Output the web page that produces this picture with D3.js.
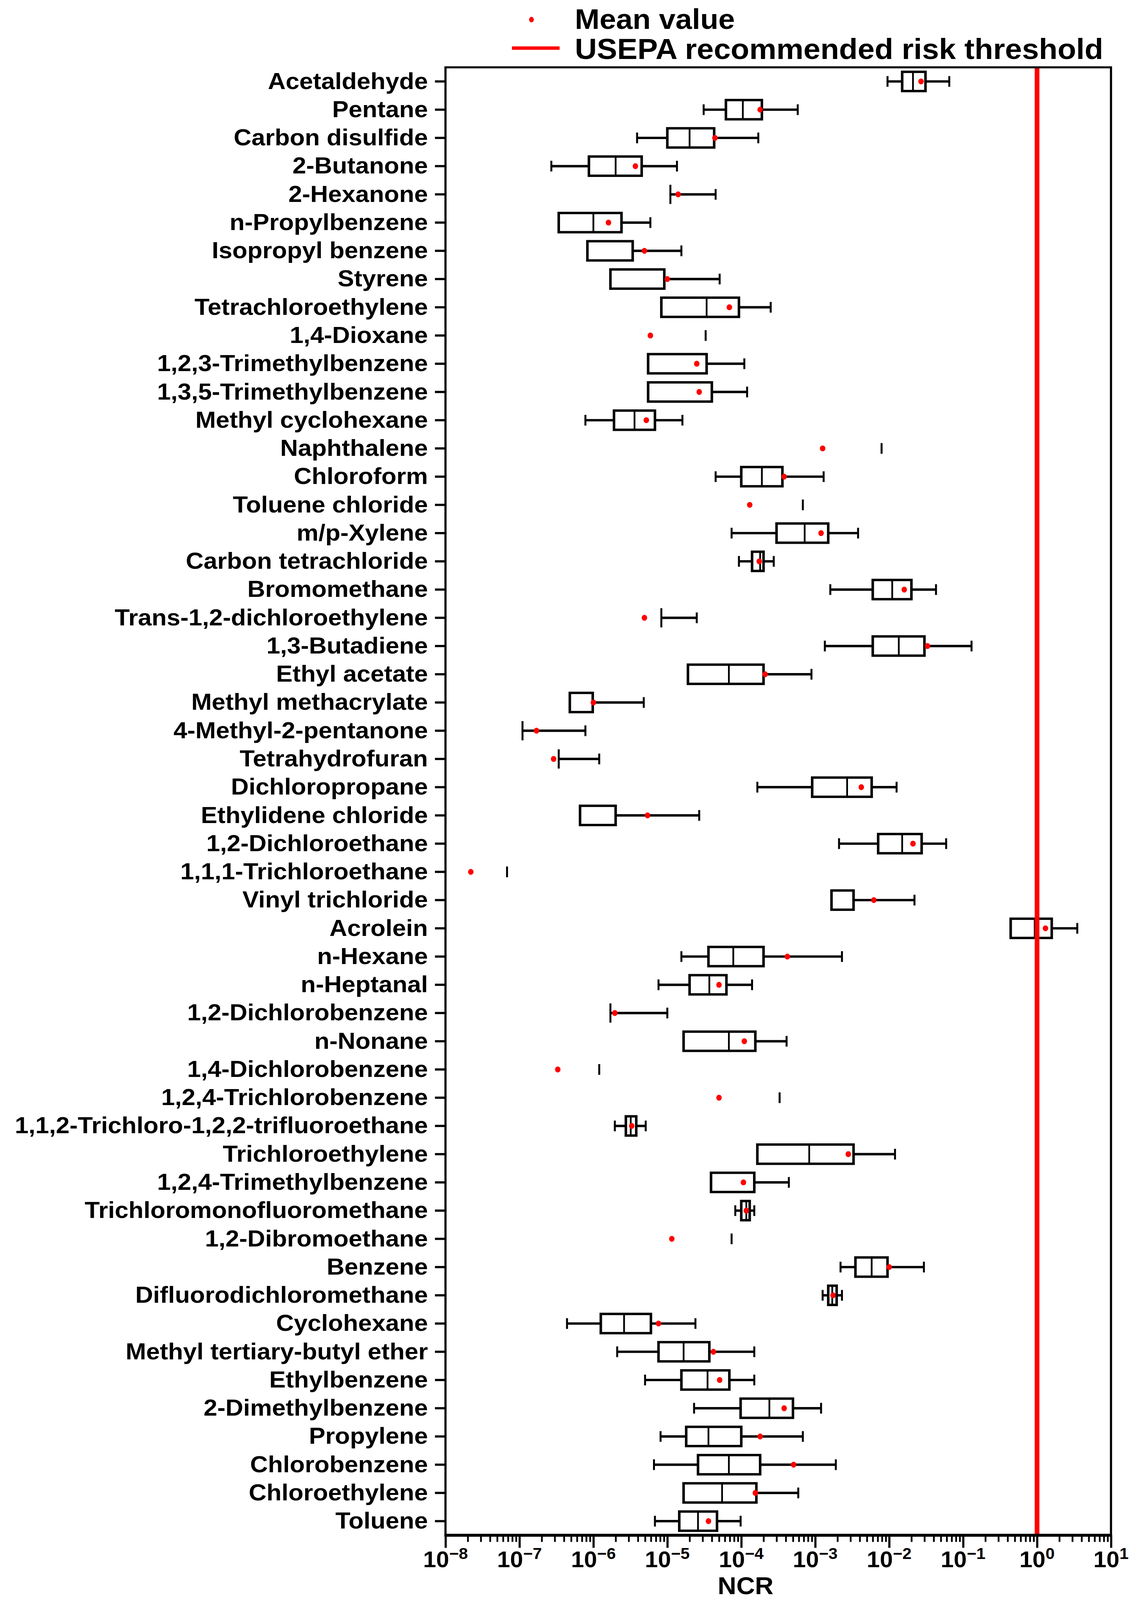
<!DOCTYPE html>
<html>
<head>
<meta charset="utf-8">
<script src="https://cdn.jsdelivr.net/npm/d3@7"></script>
<style>
  html, body { margin: 0; padding: 0; background: #fff; overflow: hidden; }
  #chart { display: block; width: 100vw; height: 100vh; }
  svg text { font-family: "Liberation Sans", Arial, sans-serif; font-weight: bold; }
</style>
</head>
<body>
<svg id="chart" viewBox="0 0 2907 4325" preserveAspectRatio="none"></svg>
<script>
// ---------------- DATA ----------------
const categories = [
  "Acetaldehyde","Pentane","Carbon disulfide","2-Butanone","2-Hexanone","n-Propylbenzene",
  "Isopropyl benzene","Styrene","Tetrachloroethylene","1,4-Dioxane","1,2,3-Trimethylbenzene",
  "1,3,5-Trimethylbenzene","Methyl cyclohexane","Naphthalene","Chloroform","Toluene chloride",
  "m/p-Xylene","Carbon tetrachloride","Bromomethane","Trans-1,2-dichloroethylene","1,3-Butadiene",
  "Ethyl acetate","Methyl methacrylate","4-Methyl-2-pentanone","Tetrahydrofuran","Dichloropropane",
  "Ethylidene chloride","1,2-Dichloroethane","1,1,1-Trichloroethane","Vinyl trichloride","Acrolein",
  "n-Hexane","n-Heptanal","1,2-Dichlorobenzene","n-Nonane","1,4-Dichlorobenzene",
  "1,2,4-Trichlorobenzene","1,1,2-Trichloro-1,2,2-trifluoroethane","Trichloroethylene",
  "1,2,4-Trimethylbenzene","Trichloromonofluoromethane","1,2-Dibromoethane","Benzene",
  "Difluorodichloromethane","Cyclohexane","Methyl tertiary-butyl ether","Ethylbenzene",
  "2-Dimethylbenzene","Propylene","Chlorobenzene","Chloroethylene","Toluene"
];
const minV = [9.5e-3,3.1e-5,3.9e-6,2.7e-7,1.1e-5,3.4e-7,8.3e-7,1.7e-6,8.3e-6,3.3e-5,5.5e-6,
  5.5e-6,7.8e-7,7.9e-3,4.5e-5,6.8e-4,7.4e-5,9.3e-5,1.6e-3,8.3e-6,1.35e-3,1.9e-5,4.8e-7,1.1e-7,
  3.4e-7,1.65e-4,6.6e-7,2.1e-3,6.8e-8,1.66e-3,0.44,1.55e-5,7.6e-6,1.7e-6,1.66e-5,1.2e-6,3.3e-4,
  1.95e-6,1.65e-4,3.9e-5,8.3e-5,7.4e-5,2.2e-3,1.26e-3,4.4e-7,2.1e-6,5.0e-6,2.3e-5,8.1e-6,6.6e-6,
  1.66e-5,6.8e-6];
const q1V = [1.5e-2,6.2e-5,1.0e-5,8.7e-7,1.1e-5,3.4e-7,8.3e-7,1.7e-6,8.3e-6,3.3e-5,5.5e-6,
  5.5e-6,1.9e-6,7.9e-3,1.0e-4,6.8e-4,3.0e-4,1.4e-4,6.0e-3,8.3e-6,6.0e-3,1.9e-5,4.8e-7,1.1e-7,
  3.4e-7,9.1e-4,6.6e-7,7.1e-3,6.8e-8,1.66e-3,0.44,3.6e-5,2.0e-5,1.7e-6,1.66e-5,1.2e-6,3.3e-4,
  2.75e-6,1.65e-4,3.9e-5,1.0e-4,7.4e-5,3.5e-3,1.5e-3,1.26e-6,7.6e-6,1.55e-5,9.8e-5,1.8e-5,2.6e-5,
  1.66e-5,1.45e-5];
const medV = [2.1e-2,1.05e-4,2.0e-5,2.0e-6,1.1e-5,1.0e-6,8.3e-7,1.7e-6,3.4e-5,3.3e-5,5.5e-6,
  5.5e-6,3.6e-6,7.9e-3,1.9e-4,6.8e-4,7.2e-4,1.8e-4,1.1e-2,8.3e-6,1.35e-2,6.8e-5,4.8e-7,1.1e-7,
  3.4e-7,2.7e-3,6.6e-7,1.5e-2,6.8e-8,1.66e-3,0.93,7.8e-5,3.7e-5,1.7e-6,6.8e-5,1.2e-6,3.3e-4,
  3.2e-6,8.3e-4,3.9e-5,1.17e-4,7.4e-5,5.8e-3,1.7e-3,2.6e-6,1.66e-5,3.5e-5,2.4e-4,3.6e-5,6.8e-5,
  5.5e-5,2.6e-5];
const q3V = [3.1e-2,1.9e-4,4.3e-5,4.5e-6,1.1e-5,2.4e-6,3.4e-6,9.1e-6,9.3e-5,3.3e-5,3.4e-5,
  4.0e-5,6.8e-6,7.9e-3,3.6e-4,6.8e-4,1.5e-3,2.0e-4,2.0e-2,8.3e-6,3.0e-2,2.0e-4,9.8e-7,1.1e-7,
  3.4e-7,5.8e-3,2.0e-6,2.75e-2,6.8e-8,3.3e-3,1.58,2.0e-4,6.3e-5,1.7e-6,1.55e-4,1.2e-6,3.3e-4,
  3.8e-6,3.3e-3,1.5e-4,1.3e-4,7.4e-5,9.5e-3,1.95e-3,6.0e-6,3.7e-5,6.9e-5,5.0e-4,1.0e-4,1.8e-4,
  1.6e-4,4.7e-5];
const maxV = [6.5e-2,5.8e-4,1.7e-4,1.35e-5,4.5e-5,5.9e-6,1.55e-5,5.1e-5,2.5e-4,3.3e-5,1.1e-4,
  1.2e-4,1.6e-5,7.9e-3,1.3e-3,6.8e-4,3.8e-3,2.75e-4,4.3e-2,2.5e-5,0.13,8.9e-4,4.8e-6,7.8e-7,
  1.2e-6,1.26e-2,2.7e-5,5.9e-2,6.8e-8,2.2e-2,3.5,2.3e-3,1.4e-4,1.0e-5,4.1e-4,1.2e-6,3.3e-4,
  5.1e-6,1.2e-2,4.4e-4,1.5e-4,7.4e-5,2.95e-2,2.3e-3,2.4e-5,1.5e-4,1.5e-4,1.2e-3,6.8e-4,1.9e-3,
  5.9e-4,9.8e-5];
const meanV = [2.7e-2,1.8e-4,4.4e-5,3.7e-6,1.4e-5,1.6e-6,4.9e-6,1.0e-5,6.9e-5,5.9e-6,2.5e-5,
  2.7e-5,5.2e-6,1.26e-3,3.8e-4,1.3e-4,1.2e-3,1.75e-4,1.6e-2,4.9e-6,3.3e-2,2.1e-4,1.0e-6,1.7e-7,
  2.9e-7,4.2e-3,5.4e-6,2.1e-2,2.2e-8,6.2e-3,1.3,4.2e-4,5.0e-5,1.95e-6,1.1e-4,3.3e-7,5.0e-5,
  3.3e-6,2.8e-3,1.07e-4,1.17e-4,1.15e-5,1.0e-2,1.74e-3,7.6e-6,4.2e-5,5.1e-5,3.8e-4,1.8e-4,5.1e-4,
  1.55e-4,3.6e-5];
const threshold = 1;
const tickExps = [-8,-7,-6,-5,-4,-3,-2,-1,0,1];
const legendLabels = ["Mean value", "USEPA recommended risk threshold"];
const xTitle = "NCR";

// ---------------- LAYOUT ----------------
const L = 1140, R = 2843, T = 182, B = 4150;
const svg = d3.select("#chart");

const x = d3.scaleLog().domain([1e-8, 10]).range([L, R]);
const y = d3.scaleBand().domain(categories).range([T, B]).padding(0);

const rows = categories.map((c, i) => ({
  name: c, min: minV[i], q1: q1V[i], med: medV[i], q3: q3V[i], max: maxV[i], mean: meanV[i]
}));

const boxH = 52, capH = 29, sw = 6.5, capW = 5;
const g = svg.append("g");

rows.forEach(d => {
  const cy = y(d.name) + y.bandwidth() / 2;
  const gg = g.append("g");
  if (d.min === d.max) {
    gg.append("line").attr("x1", x(d.min)).attr("x2", x(d.min))
      .attr("y1", cy - capH / 2).attr("y2", cy + capH / 2)
      .attr("stroke", "#000").attr("stroke-width", capW);
    return;
  }
  if (d.min < d.q1) {
    gg.append("line").attr("x1", x(d.min)).attr("x2", x(d.q1)).attr("y1", cy).attr("y2", cy)
      .attr("stroke", "#000").attr("stroke-width", sw);
    gg.append("line").attr("x1", x(d.min)).attr("x2", x(d.min))
      .attr("y1", cy - capH / 2).attr("y2", cy + capH / 2)
      .attr("stroke", "#000").attr("stroke-width", capW);
  }
  if (d.max > d.q3) {
    gg.append("line").attr("x1", x(d.q3)).attr("x2", x(d.max)).attr("y1", cy).attr("y2", cy)
      .attr("stroke", "#000").attr("stroke-width", sw);
    gg.append("line").attr("x1", x(d.max)).attr("x2", x(d.max))
      .attr("y1", cy - capH / 2).attr("y2", cy + capH / 2)
      .attr("stroke", "#000").attr("stroke-width", capW);
  }
  if (d.q3 > d.q1) {
    gg.append("rect").attr("x", x(d.q1)).attr("y", cy - boxH / 2)
      .attr("width", x(d.q3) - x(d.q1)).attr("height", boxH)
      .attr("fill", "#fff").attr("stroke", "#000").attr("stroke-width", sw);
    gg.append("line").attr("x1", x(d.med)).attr("x2", x(d.med))
      .attr("y1", cy - boxH / 2).attr("y2", cy + boxH / 2)
      .attr("stroke", "#000").attr("stroke-width", 4.5);
  } else {
    gg.append("line").attr("x1", x(d.q1)).attr("x2", x(d.q1))
      .attr("y1", cy - boxH / 2).attr("y2", cy + boxH / 2)
      .attr("stroke", "#000").attr("stroke-width", capW);
  }
});

// threshold line
svg.append("line").attr("x1", x(threshold)).attr("x2", x(threshold))
  .attr("y1", T).attr("y2", B).attr("stroke", "#ff0000").attr("stroke-width", 12);

// means
svg.append("g").selectAll("ellipse").data(rows).join("ellipse")
  .attr("cx", d => x(d.mean)).attr("cy", d => y(d.name) + y.bandwidth() / 2)
  .attr("rx", 7).attr("ry", 8).attr("fill", "#ff0000");

// y axis
const yAx = svg.append("g").attr("transform", `translate(${L},0)`)
  .call(d3.axisLeft(y).tickSize(27).tickPadding(18));
yAx.select(".domain").remove();
yAx.selectAll(".tick line").attr("stroke", "#000").attr("stroke-width", 6);
yAx.selectAll(".tick text").attr("font-size", 63).attr("fill", "#000")
  .attr("font-family", "'Liberation Sans', Arial, sans-serif").attr("font-weight", "bold");

// x axis (major + minor ticks)
const majors = tickExps.map(e => Math.pow(10, e));
const minors = [];
tickExps.slice(0, -1).forEach(e => { for (let k = 2; k <= 9; k++) minors.push(k * Math.pow(10, e)); });
const xMaj = svg.append("g").attr("transform", `translate(0,${B})`)
  .call(d3.axisBottom(x).tickValues(majors).tickSize(34).tickFormat(""));
xMaj.select(".domain").remove();
xMaj.selectAll(".tick line").attr("stroke", "#000").attr("stroke-width", 5.5);
const xMin = svg.append("g").attr("transform", `translate(0,${B})`)
  .call(d3.axisBottom(x).tickValues(minors).tickSize(18).tickFormat(""));
xMin.select(".domain").remove();
xMin.selectAll(".tick line").attr("stroke", "#000").attr("stroke-width", 4.5);

// tick labels
const tl = svg.append("g").selectAll("text").data(tickExps).join("text")
  .attr("x", e => x(Math.pow(10, e))).attr("y", 4236)
  .attr("text-anchor", "middle").attr("fill", "#000");
tl.append("tspan").attr("font-size", 60).text("10");
tl.append("tspan").attr("font-size", 42).attr("dy", -22)
  .text(e => (e < 0 ? "\u2212" + Math.abs(e) : String(e)));

// frame
svg.append("rect").attr("x", L).attr("y", T).attr("width", R - L).attr("height", B - T)
  .attr("fill", "none").attr("stroke", "#000").attr("stroke-width", 5.5);
svg.append("line").attr("x1", L - 2.5).attr("x2", R + 2.5).attr("y1", B).attr("y2", B)
  .attr("stroke", "#000").attr("stroke-width", 8);

// x title
svg.append("text").attr("x", 1908).attr("y", 4309).attr("text-anchor", "middle")
  .attr("font-size", 66).attr("fill", "#000").text(xTitle);

// legend
svg.append("ellipse").attr("cx", 1360).attr("cy", 53).attr("rx", 6).attr("ry", 7.5).attr("fill", "#ff0000");
svg.append("text").attr("x", 1471).attr("y", 78).attr("font-size", 76).attr("fill", "#000").text(legendLabels[0]);
svg.append("line").attr("x1", 1310).attr("x2", 1432).attr("y1", 130).attr("y2", 130)
  .attr("stroke", "#ff0000").attr("stroke-width", 9);
svg.append("text").attr("x", 1471).attr("y", 159).attr("font-size", 78).attr("fill", "#000").text(legendLabels[1]);
</script>
</body>
</html>
